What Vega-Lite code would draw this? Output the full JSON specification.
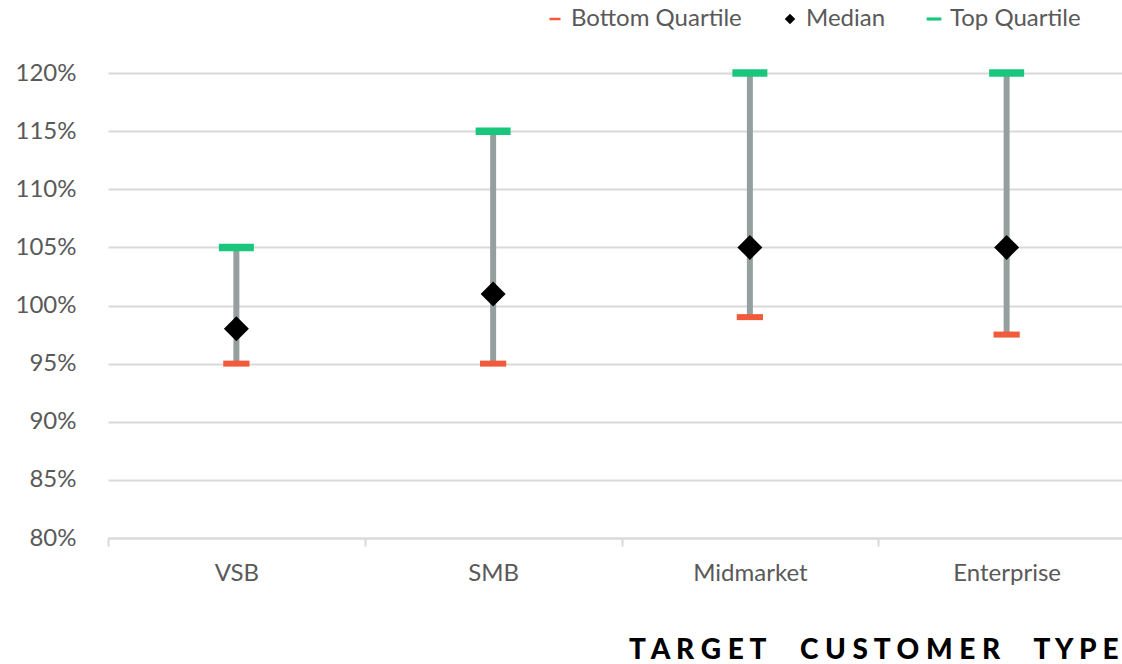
{
  "$schema": "https://vega.github.io/schema/vega-lite/v6.json",
  "width": 1027,
  "height": 465,
  "autosize": {"type": "none"},
  "padding": {"left": 108, "top": 73, "right": 0, "bottom": 126},
  "background": "white",
  "config": {"view": {"stroke": null}, "font": "Lato"},
  "data": {
    "values": [
      {"type": "VSB", "Bottom Quartile": 0.95, "Median": 0.98, "Top Quartile": 1.05},
      {"type": "SMB", "Bottom Quartile": 0.95, "Median": 1.01, "Top Quartile": 1.15},
      {"type": "Midmarket", "Bottom Quartile": 0.99, "Median": 1.05, "Top Quartile": 1.20},
      {"type": "Enterprise", "Bottom Quartile": 0.975, "Median": 1.05, "Top Quartile": 1.20}
    ]
  },
  "encoding": {
    "x": {
      "field": "type",
      "type": "nominal",
      "sort": ["VSB", "SMB", "Midmarket", "Enterprise"],
      "scale": {"type": "band", "paddingInner": 0, "paddingOuter": 0},
      "axis": {
        "tickBand": "extent",
        "domainColor": "#d9d9d9",
        "domainWidth": 2,
        "tickColor": "#d9d9d9",
        "tickWidth": 2,
        "tickSize": 8,
        "labelAngle": 0,
        "labelFont": "Lato",
        "labelFontSize": 24,
        "labelColor": "#595959",
        "labelPadding": 15,
        "title": "T A R G E T \u2003 C U S T O M E R \u2003 T Y P E",
        "titleFont": "Lato",
        "titleFontSize": 28,
        "titleFontWeight": 900,
        "titleColor": "#000000",
        "titleAlign": "right",
        "titleBaseline": "alphabetic",
        "titleLimit": 1000,
        "titleX": 1010,
        "titleY": 120
      }
    }
  },
  "layer": [
    {
      "mark": {"type": "rule", "color": "#95a09e", "strokeWidth": 6},
      "encoding": {
        "y": {
          "field": "Bottom Quartile",
          "type": "quantitative",
          "scale": {"domain": [0.8, 1.2], "nice": false, "zero": false},
          "axis": {
            "values": [0.8, 0.85, 0.9, 0.95, 1.0, 1.05, 1.1, 1.15, 1.2],
            "format": ".0%",
            "grid": true,
            "gridColor": "#d9d9d9",
            "gridWidth": 2,
            "domain": false,
            "ticks": false,
            "labelFont": "Lato",
            "labelFontSize": 24,
            "labelColor": "#595959",
            "labelPadding": 32,
            "title": null
          }
        },
        "y2": {"field": "Top Quartile"}
      }
    },
    {
      "transform": [{"fold": ["Bottom Quartile", "Median", "Top Quartile"], "as": ["stat", "value"]}],
      "mark": {"type": "point", "filled": true, "size": 625, "opacity": 1, "strokeWidth": 0},
      "encoding": {
        "y": {"field": "value", "type": "quantitative"},
        "color": {
          "field": "stat",
          "type": "nominal",
          "scale": {
            "domain": ["Bottom Quartile", "Median", "Top Quartile"],
            "range": ["#f15a3a", "#000000", "#18c77c"]
          },
          "legend": {
            "orient": "none",
            "legendX": 435,
            "legendY": -66,
            "direction": "horizontal",
            "title": null,
            "labelFont": "Lato",
            "labelFontSize": 24,
            "labelColor": "#595959",
            "labelLimit": 400,
            "symbolSize": 110,
            "symbolStrokeWidth": 0,
            "columnPadding": 36,
            "labelOffset": 4
          }
        },
        "shape": {
          "field": "stat",
          "type": "nominal",
          "scale": {
            "domain": ["Bottom Quartile", "Median", "Top Quartile"],
            "range": ["M-1.05,-0.24H1.05V0.24H-1.05Z", "diamond", "M-1.4,-0.3H1.4V0.3H-1.4Z"]
          }
        }
      }
    }
  ]
}
